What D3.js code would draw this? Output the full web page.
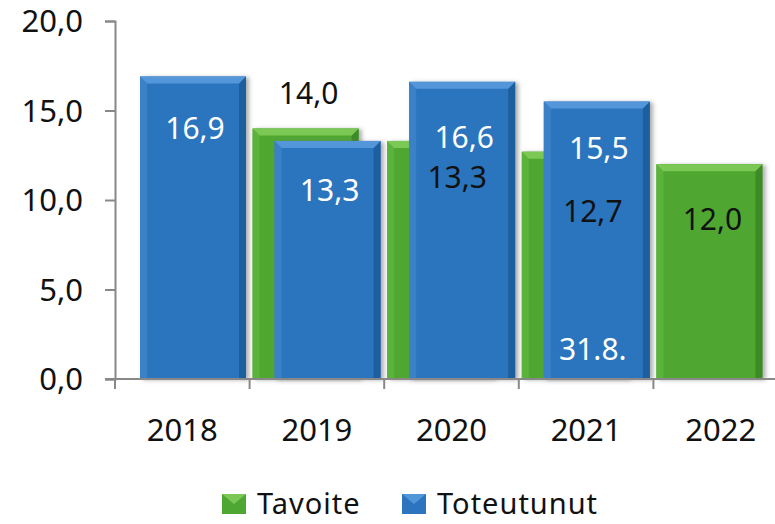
<!DOCTYPE html>
<html>
<head>
<meta charset="utf-8">
<script src="https://cdn.jsdelivr.net/npm/d3@7"></script>
<style>
  body { margin: 0; background: #fff; }
  svg { display: block; font-family: "Noto Sans", "Open Sans", sans-serif; }
</style>
</head>
<body>
<svg id="chart" width="775" height="524"></svg>
<script>
// data
const years = ["2018", "2019", "2020", "2021", "2022"];
const tavoite = [null, 14.0, 13.3, 12.7, 12.0];     // green
const toteutunut = [16.9, 13.3, 16.6, 15.5, null];  // blue
const yTicks = [0, 5, 10, 15, 20];
const seriesNames = ["Tavoite", "Toteutunut"];
const strayLabel = "31.8."; // loose text inside the 2021 bar

// label placement (pixels from bar top), hand placed in the original
const greenLabelDy = [0, -35, 37, 60, 55];
const greenLabelDx = [0, 3, 17, 18, 3];
const blueLabelDy = [52, 50, 56, 47, 0];

const fmt = v => d3.format(".1f")(v).replace(".", ",");

const svg = d3.select("#chart");

const x = d3.scaleBand().domain(years).range([115, 788]).padding(0);
const y = d3.scaleLinear().domain([0, 20]).range([379, 21]);
const bw = 106;
const greenOff = 3, blueOff = 25;

const col = {
  green: { base: "#4fa733", top: "#7cc855", left: "#5ab43b", right: "#3d8b25" },
  blue:  { base: "#2c74bd", top: "#5296da", left: "#3a81c8", right: "#1f5e9e" }
};

// soft shadow
const defs = svg.append("defs");
const f = defs.append("filter").attr("id", "shadow").attr("x", "-10%").attr("y", "-10%").attr("width", "130%").attr("height", "130%");
f.append("feDropShadow").attr("dx", 3).attr("dy", 1).attr("stdDeviation", 2)
  .attr("flood-color", "#777").attr("flood-opacity", 0.6);

function bevelBar(g, x0, y0, w, h, c) {
  const b = 7;
  const grp = g.append("g").attr("filter", "url(#shadow)");
  grp.append("rect").attr("x", x0).attr("y", y0).attr("width", w).attr("height", h).attr("fill", c.base);
  grp.append("polygon")
    .attr("points", [[x0, y0], [x0 + b, y0 + b], [x0 + b, y0 + h], [x0, y0 + h]].join(" "))
    .attr("fill", c.left);
  grp.append("polygon")
    .attr("points", [[x0 + w, y0], [x0 + w - b, y0 + b], [x0 + w - b, y0 + h], [x0 + w, y0 + h]].join(" "))
    .attr("fill", c.right);
  grp.append("polygon")
    .attr("points", [[x0, y0], [x0 + w, y0], [x0 + w - b, y0 + b], [x0 + b, y0 + b]].join(" "))
    .attr("fill", c.top);
}

const bars = svg.append("g");

// green first, blue overlaps it
years.forEach((yr, i) => {
  const v = tavoite[i];
  if (v == null) return;
  bevelBar(bars, x(yr) + greenOff, y(v), bw, y(0) - y(v), col.green);
});
years.forEach((yr, i) => {
  const v = toteutunut[i];
  if (v == null) return;
  bevelBar(bars, x(yr) + blueOff, y(v), bw, y(0) - y(v), col.blue);
});

// axes
const yAxis = d3.axisLeft(y).tickValues(yTicks).tickSize(10).tickPadding(22).tickFormat(fmt);
const gy = svg.append("g").attr("transform", "translate(115,0)").call(yAxis);
gy.selectAll("path, line").attr("stroke", "#888").attr("stroke-width", 2);
gy.selectAll("text").attr("font-size", 31).attr("fill", "#111")
  .attr("font-family", "'Noto Sans', sans-serif").attr("dy", "0.35em");

const xb = d3.scaleLinear().domain([0, years.length]).range(x.range());
const gx = svg.append("g").attr("transform", "translate(0,379)");
gx.append("line").attr("x1", 105).attr("x2", 775).attr("y1", 0).attr("y2", 0)
  .attr("stroke", "#888").attr("stroke-width", 2);
gx.selectAll("line.tk").data(d3.range(years.length + 1)).join("line")
  .attr("class", "tk")
  .attr("x1", d => xb(d)).attr("x2", d => xb(d))
  .attr("y1", 0).attr("y2", 10)
  .attr("stroke", "#888").attr("stroke-width", 2);
gx.selectAll("text").data(years).join("text")
  .attr("x", d => x(d) + x.bandwidth() / 2)
  .attr("y", 62)
  .attr("text-anchor", "middle")
  .attr("font-size", 31)
  .attr("fill", "#111")
  .text(d => d);

// value labels
const labels = svg.append("g").attr("font-size", 30).attr("text-anchor", "middle");
years.forEach((yr, i) => {
  const v = tavoite[i];
  if (v == null) return;
  labels.append("text")
    .attr("x", x(yr) + greenOff + bw / 2 + greenLabelDx[i])
    .attr("y", y(v) + greenLabelDy[i])
    .attr("dy", "0.35em")
    .attr("fill", "#111")
    .text(fmt(v));
});
years.forEach((yr, i) => {
  const v = toteutunut[i];
  if (v == null) return;
  labels.append("text")
    .attr("x", x(yr) + blueOff + bw / 2 + 2)
    .attr("y", y(v) + blueLabelDy[i])
    .attr("dy", "0.35em")
    .attr("fill", "#fff")
    .text(fmt(v));
});
labels.append("text")
  .attr("x", x("2021") + blueOff + bw / 2 - 4)
  .attr("y", y(0) - 30)
  .attr("dy", "0.35em")
  .attr("fill", "#fff")
  .text(strayLabel);

// legend
const legend = svg.append("g").attr("font-size", 29);
const legX = [222, 402];
[col.green, col.blue].forEach((c, i) => {
  const lg = legend.append("g");
  lg.append("rect").attr("x", legX[i]).attr("y", 494).attr("width", 24).attr("height", 20).attr("fill", c.base);
  lg.append("polygon")
    .attr("points", [[legX[i], 494], [legX[i] + 24, 494], [legX[i] + 12, 504]].join(" "))
    .attr("fill", c.top);
  lg.append("text").attr("x", legX[i] + 35).attr("y", 514).attr("fill", "#111")
    .attr("letter-spacing", 1).text(seriesNames[i]);
});
</script>
</body>
</html>
